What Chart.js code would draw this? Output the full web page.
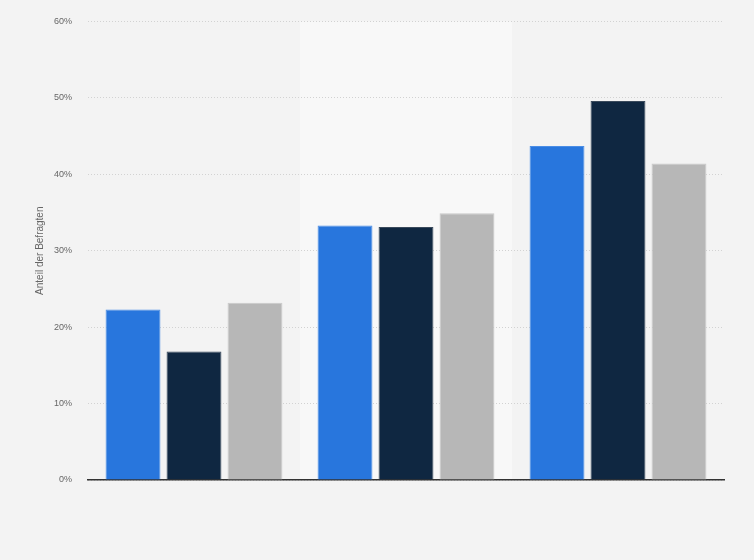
<!DOCTYPE html>
<html>
<head>
<meta charset="utf-8">
<script src="https://cdn.jsdelivr.net/npm/chart.js@4/dist/chart.umd.min.js"></script>
<style>
  html, body { margin: 0; padding: 0; background: #f3f3f3; }
  #wrap { width: 754px; height: 560px; }
</style>
</head>
<body>
<div id="wrap"><canvas id="chart" width="754" height="560"></canvas></div>
<script>
// categories have no visible labels in the picture
const categories = ["A", "B", "C"];
const seriesNames = ["Serie 1", "Serie 2", "Serie 3"];
const series1 = [22.3, 33.3, 43.7];
const series2 = [16.8, 33.1, 49.6];
const series3 = [23.2, 34.9, 41.4];
const yTicks = [0, 10, 20, 30, 40, 50, 60];

const colors = ["#2876dd", "#0f2741", "#b7b7b7"];
const borders = ["#4a8de6", "#3a4a5c", "#c9c9c9"];

// light band behind every second category
const bandPlugin = {
    id: 'bands',
    beforeDraw(chart) {
        let ctx = chart.ctx;
        let x = chart.scales.x;
        let area = chart.chartArea;
        ctx.save();
        for (let i = 0; i < categories.length; i++) {
            if (i % 2 !== 1) continue;
            let c = x.getPixelForValue(i);
            let half = (x.getPixelForValue(1) - x.getPixelForValue(0)) / 2;
            ctx.fillStyle = "#f8f8f8";
            ctx.fillRect(c - half, area.top, half * 2, area.bottom - area.top);
        }
        ctx.restore();
    }
};

let allSeries = [series1, series2, series3];
let datasets = [];
for (let i = 0; i < allSeries.length; i++) {
    datasets.push({
        label: seriesNames[i],
        data: allSeries[i],
        backgroundColor: colors[i],
        borderColor: borders[i],
        borderWidth: {top: 1, left: 1, right: 1, bottom: 0},
        borderSkipped: 'bottom',
        categoryPercentage: 0.863,
        barPercentage: 0.9,
    });
}

let ctx = document.getElementById('chart').getContext('2d');
let myChart = new Chart(ctx, {
    type: 'bar',
    data: {labels: categories, datasets: datasets},
    plugins: [bandPlugin],
    options: {
        responsive: false,
        animation: false,
        layout: {padding: {top: 17, right: 30, bottom: 80, left: 0}},
        plugins: {
            legend: {display: false},
            tooltip: {enabled: false}
        },
        scales: {
            x: {
                grid: {display: false, drawTicks: false},
                border: {display: true, color: "#333333", width: 1.5},
                ticks: {display: false},
                afterFit: (s) => { s.height = 0; }
            },
            y: {
                min: 0,
                max: 60,
                afterBuildTicks: (s) => { s.ticks = yTicks.map(v => ({value: v})); },
                grid: {color: "#d2d2d2", drawTicks: false, lineWidth: 1},
                border: {display: false, dash: [1, 2]},
                ticks: {
                    padding: 16,
                    color: "#666666",
                    font: {family: "Arial, 'Liberation Sans', sans-serif", size: 9},
                    callback: (v) => v + "%"
                },
                title: {
                    display: true,
                    text: "Anteil der Befragten",
                    color: "#666666",
                    font: {family: "Arial, 'Liberation Sans', sans-serif", size: 10},
                    padding: {top: 34, bottom: 0}
                },
                afterFit: (s) => { s.width = 88; }
            }
        }
    }
});
</script>
</body>
</html>
